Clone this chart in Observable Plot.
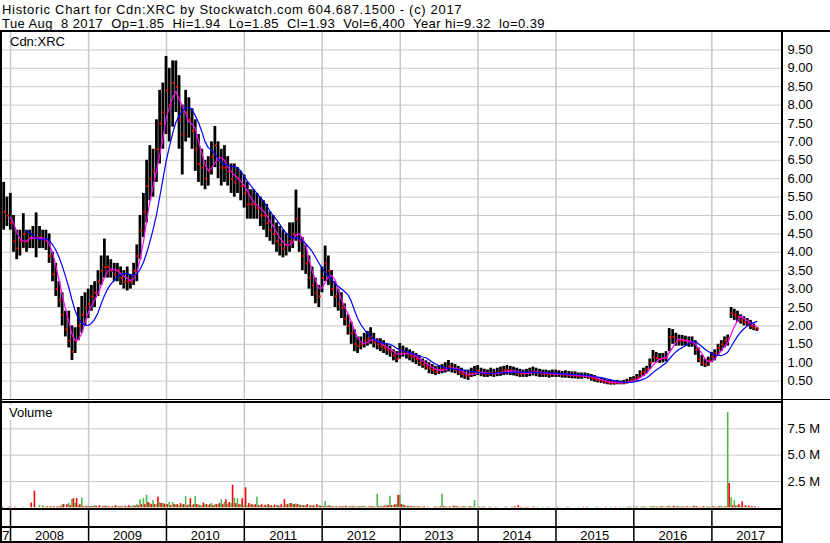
<!DOCTYPE html>
<html><head><meta charset="utf-8">
<script src="https://cdn.jsdelivr.net/npm/d3@7"></script>
<script src="https://cdn.jsdelivr.net/npm/@observablehq/plot@0.6"></script>
<style>
body{margin:0;background:#fff;font-family:"Liberation Sans",Arial,sans-serif;}
#wrap{position:relative;width:830px;height:543px;overflow:hidden;background:#fff;}
.abs{position:absolute;}
.t{left:2px;font-size:13px;white-space:pre;line-height:13px;height:13px;color:#000;}
.ln{position:absolute;background:#000;}
.lbl{position:absolute;font-size:13px;color:#000;white-space:pre;line-height:15px;}
</style></head><body><div id="wrap">
<div class="abs t" style="top:3px;letter-spacing:0.68px">Historic Chart for Cdn:XRC by Stockwatch.com 604.687.1500 - (c) 2017</div>
<div class="abs t" style="top:17px;letter-spacing:0.42px">Tue Aug  8 2017  Op=1.85  Hi=1.94  Lo=1.85  Cl=1.93  Vol=6,400  Year hi=9.32  lo=0.39</div>
<div id="price" class="abs" style="top:31px;left:0"></div>
<div id="vol" class="abs" style="top:402px;left:0"></div>
<div id="xax" class="abs" style="top:509px;left:0"></div>
<div class="lbl" style="left:10px;top:34px">Cdn:XRC</div>
<div class="lbl" style="left:9px;top:405px;background:#fff">Volume</div>
<div class="ln" style="left:0;top:30px;width:830px;height:2px"></div>
<div class="ln" style="left:0;top:31px;width:2px;height:512px"></div>
<div class="ln" style="left:781px;top:31px;width:2px;height:512px"></div>
<div class="ln" style="left:0;top:399px;width:830px;height:1px"></div>
<div class="ln" style="left:0;top:401px;width:782px;height:2px"></div>
<div class="ln" style="left:0;top:508px;width:782px;height:2px"></div>
<div class="ln" style="left:0;top:526px;width:782px;height:2px"></div>
<div class="ln" style="left:0;top:541px;width:782px;height:2px"></div>
</div>
<script>
// semi-monthly samples starting mid-Nov 2007
const hi = [
5.4,5.9,5.5, 5.6,5.0,4.6, 4.6,5.05,4.6, 4.6,4.7,5.07,
4.7,4.6,4.6, 4.5,4.0,3.7, 3.2,2.9,2.4, 2.4,2.0,1.95,
2.5,2.8,2.9, 3.0,3.1,3.2, 3.5,3.9,4.36, 3.9,3.8,3.7,
3.7,3.6,3.5, 3.6,3.4,3.7, 4.2,5.0,5.6, 6.5,6.9,6.8,
7.6,8.4,8.6, 9.32,9.0,9.2, 9.2,8.8,8.0, 8.4,8.2,7.9,
7.6,7.2,6.8, 6.5,6.6,7.0, 7.42,7.0,6.8, 6.9,6.6,6.4,
6.4,6.3,6.2, 6.1,5.9,5.7, 5.7,5.6,5.5, 5.4,5.3,5.1,
5.0,4.8,4.7, 4.6,4.5,4.8, 4.8,5.69,5.2, 4.4,4.2,3.9,
3.6,3.3,3.1, 3.6,4.17,3.9, 3.5,3.2,3.0, 2.9,2.6,2.3,
2.1,1.9,1.7, 1.7,1.8,1.85, 1.95,1.8,1.65, 1.65,1.6,1.5,
1.45,1.35,1.3, 1.52,1.45,1.4, 1.35,1.3,1.25, 1.2,1.1,1.05,
1.0,0.95,0.9, 0.92,0.95,1.0, 1.06,0.98,0.95, 0.9,0.85,0.8,
0.8,0.85,0.9, 0.92,0.85,0.82, 0.8,0.85,0.82, 0.85,0.88,0.9,
0.92,0.9,0.88, 0.85,0.82,0.8, 0.82,0.85,0.88, 0.85,0.82,0.8,
0.8,0.78,0.8, 0.8,0.78,0.76, 0.78,0.76,0.75, 0.75,0.72,0.72,
0.72,0.7,0.68, 0.65,0.6,0.58, 0.55,0.52,0.52, 0.5,0.52,0.5,
0.52,0.55,0.6, 0.62,0.68,0.78, 0.85,0.9,1.1, 1.33,1.28,1.25,
1.25,1.3,1.93, 1.9,1.8,1.75, 1.74,1.72,1.7, 1.7,1.6,1.4,
1.2,1.1,1.15, 1.28,1.35,1.5, 1.6,1.7,1.75, 2.5,2.45,2.4,
2.3,2.25,2.2, 2.15,2.05,1.94];
const lo = [
4.5,4.6,4.7, 4.6,4.0,3.8, 3.9,4.1,4.0, 4.1,4.1,3.85,
4.1,4.1,4.05, 3.7,3.2,2.8, 2.5,2.0,1.7, 1.4,1.06,1.25,
1.6,1.8,2.0, 2.2,2.4,2.5, 2.8,3.1,3.3, 3.3,3.3,3.2,
3.2,3.1,3.0, 2.95,3.0,3.1, 3.2,3.8,4.4, 4.8,5.4,5.5,
5.9,6.4,6.8, 7.2,7.0,7.4, 7.8,6.8,6.1, 7.0,7.1,6.8,
6.2,5.9,5.8, 5.7,5.8,6.1, 6.3,6.0,5.8, 5.9,5.8,5.6,
5.5,5.6,5.4, 5.2,4.9,4.9, 4.9,4.9,4.7, 4.6,4.4,4.3,
4.2,4.0,3.9, 3.85,3.9,4.0, 4.1,4.3,4.0, 3.5,3.4,3.0,
2.8,2.6,2.5, 2.9,3.2,3.1, 2.8,2.5,2.4, 2.2,2.0,1.75,
1.5,1.3,1.25, 1.35,1.4,1.45, 1.5,1.4,1.35, 1.3,1.25,1.2,
1.15,1.05,1.0, 1.1,1.15,1.1, 1.05,1.0,0.95, 0.9,0.85,0.8,
0.7,0.68,0.65, 0.68,0.7,0.72, 0.75,0.72,0.7, 0.65,0.58,0.55,
0.52,0.6,0.62, 0.65,0.62,0.6, 0.6,0.62,0.6, 0.62,0.63,0.65,
0.66,0.65,0.64, 0.62,0.6,0.6, 0.6,0.62,0.64, 0.62,0.6,0.6,
0.6,0.58,0.6, 0.6,0.6,0.58, 0.58,0.57,0.56, 0.56,0.55,0.55,
0.57,0.55,0.5, 0.47,0.45,0.44, 0.42,0.4,0.39, 0.39,0.4,0.4,
0.4,0.42,0.44, 0.46,0.5,0.58, 0.62,0.7,0.82, 1.0,1.0,0.98,
1.0,1.02,1.3, 1.5,1.45,1.45, 1.45,1.45,1.42, 1.42,1.2,1.0,
0.9,0.87,0.9, 1.0,1.05,1.2, 1.3,1.4,1.45, 2.2,2.15,2.1,
2.05,2.0,1.98, 1.9,1.87,1.85];
const cl = [
4.9,5.1,5.0, 4.8,4.3,4.1, 4.3,4.5,4.3, 4.4,4.4,4.4,
4.4,4.35,4.3, 3.9,3.4,3.0, 2.7,2.3,1.9, 1.6,1.3,1.6,
2.0,2.3,2.5, 2.6,2.8,2.9, 3.2,3.5,3.6, 3.6,3.5,3.4,
3.5,3.3,3.2, 3.2,3.2,3.5, 3.9,4.6,5.1, 5.8,6.0,6.2,
6.8,7.5,7.8, 8.4,8.0,8.6, 8.5,7.6,7.2, 7.8,7.6,7.3,
6.8,6.4,6.3, 6.0,6.2,6.6, 6.9,6.5,6.3, 6.3,6.2,6.0,
5.9,6.0,5.8, 5.6,5.3,5.3, 5.3,5.2,5.0, 5.0,4.8,4.6,
4.5,4.3,4.2, 4.1,4.2,4.3, 4.5,4.9,4.3, 3.9,3.7,3.3,
3.1,2.9,2.8, 3.3,3.7,3.5, 3.0,2.8,2.6, 2.5,2.2,2.0,
1.8,1.5,1.45, 1.5,1.6,1.65, 1.7,1.55,1.5, 1.45,1.4,1.35,
1.3,1.2,1.1, 1.35,1.3,1.25, 1.2,1.15,1.1, 1.0,0.95,0.9,
0.85,0.8,0.75, 0.8,0.82,0.85, 0.9,0.85,0.8, 0.75,0.7,0.65,
0.65,0.72,0.75, 0.78,0.72,0.7, 0.7,0.72,0.7, 0.72,0.75,0.78,
0.8,0.78,0.75, 0.72,0.7,0.7, 0.72,0.75,0.76, 0.74,0.72,0.7,
0.7,0.68,0.7, 0.7,0.69,0.68, 0.68,0.66,0.66, 0.65,0.63,0.64,
0.64,0.62,0.58, 0.55,0.52,0.5, 0.48,0.46,0.45, 0.45,0.46,0.45,
0.46,0.48,0.52, 0.55,0.6,0.7, 0.75,0.82,1.0, 1.15,1.12,1.1,
1.12,1.15,1.7, 1.7,1.6,1.6, 1.6,1.6,1.55, 1.55,1.35,1.1,
1.0,0.95,1.05, 1.15,1.25,1.4, 1.5,1.6,1.65, 2.35,2.3,2.25,
2.15,2.1,2.05, 2.0,1.95,1.93];
// volume, millions (up-day and down-day bars per sample)
const volUp = [
0.05,0.05,0,0.1,0,0,0,0.05,0,0,0,0.05,
0.22,0.2,0.05,0,0.05,0,0.05,0.3,0,0.4,0.8,0.4,
0.2,0.93,0.1,0.1,0.15,0.2,0.1,0.05,0.15,0.1,0.05,0.1,
0.1,0.15,0.05,0.1,0.15,0.2,0.3,0.77,0.87,1.19,0.4,0.7,
0.3,0.5,0.4,0.3,0.5,0.5,0.3,0.2,0.3,1.09,0.3,0.2,
1.09,0.3,0.2,0.3,0.2,0.4,0.3,0.3,0.77,0.5,0.3,0.4,
0.9,0.85,0.3,0.2,0.2,0.3,0.2,1.0,0.2,0.1,0.15,0.2,
0.1,0.2,0.15,0.1,0.3,0.4,0.3,0.35,0.3,0.2,0.2,0.1,
0.15,0.1,0.2,0.15,0.6,0.2,0.1,0.1,0.05,0.1,0.1,0.05,
0.1,0.15,0.1,0.1,0.15,0.05,0.1,0.1,1.28,0.1,0.15,0.2,
1.09,0.2,0.3,1.19,0.3,0.1,0.15,0.1,0.05,0.1,0.05,0,
0.05,0,0.1,0.05,1.28,0.1,0.05,0,0.15,0.1,0.05,0.1,
0.05,0.1,0.7,0.1,0.05,0.1,0,0.05,0,0.05,0,0,
0.05,0,0.05,0,0.05,0,0.05,0,0.05,0,0,0.05,
0,0.05,0,0,0.05,0,0,0.05,0,0,0.05,0,
0,0.05,0,0,0.05,0,0,0,0.05,0,0,0.05,
0.05,0.05,0.1,0.05,0.1,0.05,0.1,0.05,0.1,0.15,0.1,0.05,
0.1,0.05,0.15,0.1,0.05,0.1,0.1,0.05,0.05,0.05,0.1,0.05,
0.05,0.05,0.1,0.05,0.1,0.1,0.15,0.1,9.05,0.96,0.7,0.2,
0.1,0.05,0.1,0.05,0.05,0];
const volDown = [
0.05,0,0.05,0,0.05,0,0,0,0,0.45,1.57,0,
0,0.05,0.1,0.1,0.1,0.1,0.12,0.3,0.3,0.2,0.87,0.87,
0.3,0.1,0.15,0.1,0.1,0.15,0.2,0.1,0.15,0.1,0.1,0.2,
0.1,0.1,0.15,0.2,0.1,0.15,0.2,0.3,0.3,0.5,0.3,0.3,
1.0,0.4,0.35,0.3,0.2,0.3,0.3,0.4,0.3,0.2,0.87,0.3,
0.3,0.2,0.45,0.3,0.3,0.2,0.3,0.4,0.3,0.77,0.5,2.15,
0.4,0.3,0.85,1.9,0.4,0.3,0.3,0.2,0.3,0.25,0.3,0.2,
0.25,0.2,0.3,0.77,0.3,0.4,0.3,0.3,0.2,0.2,0.3,0.2,
0.2,0.3,0.15,0.1,0.1,0.15,0.1,0.1,0.1,0.1,0.15,0.1,
0.1,0.05,0.1,0.1,0.05,0.1,0.1,0.05,0.1,0.1,0.15,0.2,
0.2,0.3,1.19,0.3,0.2,0.15,0.1,0.1,0.1,0.05,0.1,0.05,
0,0.05,0.05,0.1,0.1,0.05,0.1,0.15,0.1,0.05,0.1,0.05,
0.1,0.05,0,0.05,0.05,0,0.05,0,0.05,0,0,0.05,
0,0.05,0.1,0.2,0.05,0.05,0.05,0,0.05,0.05,0,0,
0.05,0,0,0.05,0,0,0.05,0,0,0,0,0.05,
0.05,0,0,0.05,0,0,0.05,0,0,0.05,0,0,
0,0.05,0,0.05,0,0.05,0.05,0,0.05,0.05,0.05,0.1,
0.05,0.1,0.05,0.15,0.1,0.05,0.05,0.1,0.05,0.15,0.1,0.05,
0.1,0.05,0.05,0.1,0.05,0.1,0.05,0.1,2.3,0.2,0.15,0.3,
0.55,0.2,0.15,0.1,0.1,0.05];
const priceTicks = [0.5,1,1.5,2,2.5,3,3.5,4,4.5,5,5.5,6,6.5,7,7.5,8,8.5,9,9.5];
const volTicks = [2.5,5,7.5];
const years = [2008,2009,2010,2011,2012,2013,2014,2015,2016,2017];

const start = new Date(2007,10,15);
const xDomain = [new Date(2007,10,15), new Date(2017,10,28)];
const data = hi.map((h,i)=>({date:d3.timeDay.offset(start, Math.round(i*15.22)), hi:h, lo:lo[i], cl:cl[i]}));
const vdata = [];
data.forEach((d,i)=>{
  if (volUp[i]) vdata.push({date:d.date, v:volUp[i], c:"up"});
  if (volDown[i]) vdata.push({date:d3.timeDay.offset(d.date,7), v:volDown[i], c:"down"});
});
const yearStarts = years.map(y=>new Date(y,0,1));
const font = {fontFamily:"'Liberation Sans', Arial, sans-serif", fontSize:"13px", background:"transparent", overflow:"visible", color:"#000"};
const grid = "#c8c8c8";

const price = Plot.plot({
  width:830, height:369, marginLeft:0, marginRight:48, marginTop:0, marginBottom:1,
  style: font,
  x:{type:"time", domain:xDomain, axis:null},
  y:{domain:[0,10], axis:"right", ticks:priceTicks, tickFormat:d=>d.toFixed(2), tickSize:0, tickPadding:5, label:null},
  marks:[
    Plot.ruleY(priceTicks, {stroke:grid}),
    Plot.ruleX(yearStarts, {stroke:grid, strokeWidth:1.5}),
    Plot.ruleX(data, {x:"date", y1:"lo", y2:"hi", stroke:"#000", strokeWidth:2.8}),
    Plot.dot(data, {x:"date", y:"cl", symbol:"square", r:1.2, fill:"#ff0000", dx:1}),
    Plot.lineY(data, Plot.windowY({k:4, anchor:"end", strict:true}, {x:"date", y:"cl", stroke:"#ff00ff", strokeWidth:1.2})),
    Plot.lineY(data, Plot.windowY({k:9, anchor:"end", strict:true}, {x:"date", y:"cl", stroke:"#0000ff", strokeWidth:1.2}))
  ]
});
document.getElementById("price").appendChild(price);

const vol = Plot.plot({
  width:830, height:107, marginLeft:0, marginRight:48, marginTop:0, marginBottom:1.7,
  style: font,
  x:{type:"time", domain:xDomain, axis:null},
  y:{domain:[0,10], axis:"right", ticks:volTicks, tickFormat:d=>d.toFixed(1)+" M", tickSize:0, tickPadding:5, label:null},
  color:{domain:["up","down"], range:["#4cb84c","#ff0000"]},
  marks:[
    Plot.ruleY(volTicks, {stroke:grid}),
    Plot.ruleX(yearStarts, {stroke:grid, strokeWidth:1.5}),
    Plot.ruleX(vdata, {x:"date", y:"v", stroke:"c", strokeWidth:1.6})
  ]
});
document.getElementById("vol").appendChild(vol);

const xax = Plot.plot({
  width:830, height:34, marginLeft:0, marginRight:48, marginTop:0, marginBottom:0,
  style: Object.assign({}, font, {fontSize:"13px"}),
  x:{type:"time", domain:xDomain, axis:null},
  y:{domain:[0,1], axis:null},
  marks:[
    Plot.ruleX(yearStarts, {stroke:"#000", strokeWidth:1.5}),
    Plot.text(years, {x:y=>new Date(y,6,2), y:0, dy:-8, text:y=>String(y), fill:"#000"}),
    Plot.text([2007], {x:()=>new Date(2008,0,1), y:0, dy:-8, dx:-1, textAnchor:"end", text:y=>String(y), fill:"#000"})
  ]
});
document.getElementById("xax").appendChild(xax);
</script>
</body></html>
